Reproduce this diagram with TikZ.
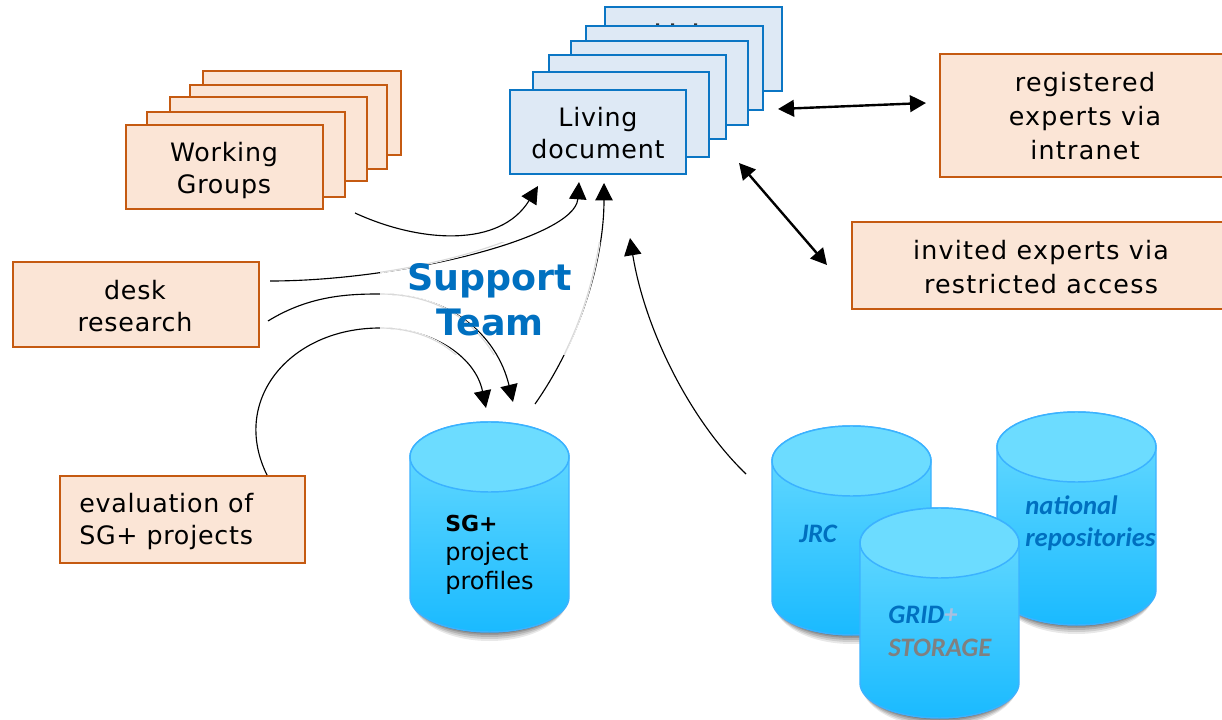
\documentclass[tikz,border=0pt]{standalone}
\usepackage{fontspec}
\setmainfont{DejaVu Sans}
\newfontfamily\boxfam[LetterSpace=3]{DejaVu Sans}
\newfontfamily\widefam[LetterSpace=5]{DejaVu Sans}
\newfontfamily\cylfont{Carlito}
\usetikzlibrary{arrows.meta}
\definecolor{bstroke}{HTML}{0B76C4}
\definecolor{bfill}{HTML}{DEE9F5}
\definecolor{ostroke}{HTML}{C55A11}
\definecolor{ofill}{HTML}{FBE5D6}
\definecolor{cyltop}{HTML}{6CDCFF}
\definecolor{cylbot}{HTML}{1ABAFF}
\definecolor{cylline}{HTML}{3BB2FF}
\definecolor{teamblue}{HTML}{0070C0}
\definecolor{midgray}{HTML}{D9D9D9}
\newcommand{\boxfont}{\boxfam\fontsize{19}{24}\selectfont}
\newcommand{\boxfontwide}{\widefam\fontsize{19}{25.5}\selectfont}
\tikzset{
  x=0.75pt,y=-0.75pt,
  bluebox/.style={draw=bstroke,fill=bfill,line width=1.7pt,inner sep=0pt,outer sep=0pt},
  orangebox/.style={draw=ostroke,fill=ofill,line width=1.7pt,inner sep=0pt,outer sep=0pt},
  boxtext/.style={align=center,inner sep=0pt,font=\boxfont},
  boxtextwide/.style={align=center,inner sep=0pt,font=\boxfontwide},
  curvearrow/.style={draw=black,line width=0.85pt,-{Triangle[length=13pt,width=13pt]}},
  bigarrow/.style={draw=black,line width=1.8pt,{Triangle[length=12pt,width=12.5pt]}-{Triangle[length=12pt,width=12.5pt]}},
  cyllabel/.style={anchor=base west,inner sep=0pt,font=\cylfont\bfseries\itshape\fontsize{20}{24}\selectfont,text=teamblue},
  sglabel/.style={anchor=base west,inner sep=0pt,font=\fontsize{18}{21.7}\selectfont},
}
% style, name, x1, y1, x2, y2
\newcommand{\rbox}[6]{%
  \pgfmathsetmacro{\cxx}{(#3+#5)/2}\pgfmathsetmacro{\cyy}{(#4+#6)/2}%
  \pgfmathsetmacro{\ww}{(#5-#3)*0.75}\pgfmathsetmacro{\hh}{(#6-#4)*0.75}%
  \node[#1,minimum width=\ww pt,minimum height=\hh pt] (#2) at (\cxx,\cyy) {};}
% left, right, top-ellipse centre, side end, ry
\newcommand{\cyl}[5]{%
  \pgfmathsetmacro{\rx}{(#2-#1)/2}%
  \foreach \s/\o in {9/0.09,7/0.11,5/0.13,3/0.15,1.5/0.17}{%
    \fill[black,opacity=\o] (#1+1,#4) arc[start angle=180,end angle=0,x radius=\rx-1,y radius=#5+\s] -- cycle;}%
  \path[shade,top color=cyltop,bottom color=cylbot,draw=cylline,line width=1.1pt]
    (#1,#3) -- (#1,#4) arc[start angle=180,end angle=0,x radius=\rx,y radius=#5]
    -- (#2,#3) arc[start angle=0,end angle=-180,x radius=\rx,y radius=#5] -- cycle;
  \draw[cylline,line width=1.1pt,fill=cyltop] (#1,#3) arc[start angle=180,end angle=540,x radius=\rx,y radius=#5];}
\newcommand{\pathA}{(wgout) .. controls (420,243) and (500,248) .. (wgin)}
\newcommand{\pathB}{(deskouta) .. controls (400,281) and (575,238) .. (deskina)}
\newcommand{\pathC}{(deskoutb) .. controls (310,295) and (350,294) .. (380,294) .. controls (450,294) and (497,335) .. (sgina)}
\newcommand{\pathD}{(evalout) .. controls (230,400) and (290,328) .. (380,328) .. controls (430,328) and (475,355) .. (sginb)}
\newcommand{\pathE}{(sgout) .. controls (580,340) and (604,260) .. (docin)}
\begin{document}
\begin{tikzpicture}
\clip (0,0) rectangle (1222,720);
\fill[white] (0,0) rectangle (1222,720);
% orange stack
\rbox{orangebox}{wg5}{203}{71}{401}{155}
\rbox{orangebox}{wg4}{190}{85}{387}{169}
\rbox{orangebox}{wg3}{170}{97}{367}{181}
\rbox{orangebox}{wg2}{147}{112}{345}{197}
\rbox{orangebox}{wg1}{126}{125}{323}{209}
\node[boxtext] (wgtext) at (224,170.5) {Working\\Groups};
% blue stack
\rbox{bluebox}{ld6}{605}{7}{782}{91}
\fill[black!80] (656,23.5) rectangle (659,25.5) (671,23.5) rectangle (674,25.5) (694,23.5) rectangle (697,25.5);
\rbox{bluebox}{ld5}{586}{26}{763}{110}
\rbox{bluebox}{ld4}{571}{41}{748}{125}
\rbox{bluebox}{ld3}{549}{55}{726}{139}
\rbox{bluebox}{ld2}{533}{72}{709}{157}
\rbox{bluebox}{ld1}{510}{90}{686}{174}
\node[boxtext] (ldtext) at (598,133) {Living\\document};
% other boxes
\rbox{orangebox}{reg}{940}{54}{1230}{177}
\node[boxtextwide] (regtext) at (1085,116.5) {registered\\experts via\\intranet};
\rbox{orangebox}{inv}{852}{222}{1230}{309}
\node[boxtextwide] (invtext) at (1041,267.5) {invited experts via\\restricted access};
\rbox{orangebox}{desk}{13}{262}{259}{347}
\node[boxtext] (desktext) at (135,306.5) {desk\\research};
\rbox{orangebox}{eval}{60}{476}{305}{563}
\node[anchor=west,align=left,inner sep=0pt,font=\boxfont] (evaltext) at (79,522) {evaluation of\\SG+ projects};
% connector ends
\coordinate (wgout) at (355,213);
\coordinate (wgin) at (538,186);
\coordinate (deskouta) at (270,281);
\coordinate (deskina) at (579,182);
\coordinate (deskoutb) at (268,321);
\coordinate (sgina) at (513,402);
\coordinate (evalout) at (267,475);
\coordinate (sginb) at (486,408);
\coordinate (sgout) at (535,404);
\coordinate (docin) at (604,183);
\coordinate (repout) at (746,474);
\coordinate (repin) at (630,238);
\coordinate (rega) at (778,109);
\coordinate (regb) at (926,103);
\coordinate (inva) at (739,163);
\coordinate (invb) at (827,265);
% connectors
\draw[curvearrow] \pathA;
\draw[curvearrow] \pathB;
\draw[curvearrow] \pathC;
\draw[curvearrow] \pathD;
\draw[curvearrow] \pathE;
\draw[curvearrow] (repout) .. controls (690,420) and (645,330) .. (repin);
\draw[bigarrow] (rega) -- (regb);
\draw[bigarrow] (inva) -- (invb);
% faded middle part under the Support Team label
\begin{scope}
\clip (380,243) rectangle (602,355);
\draw[white,line width=1.6pt] \pathB;
\draw[white,line width=1.6pt] \pathC;
\draw[white,line width=1.6pt] \pathD;
\draw[white,line width=1.6pt] \pathE;
\draw[midgray,line width=0.85pt] \pathB;
\draw[midgray,line width=0.85pt] \pathC;
\draw[midgray,line width=0.85pt] \pathD;
\draw[midgray,line width=0.85pt] \pathE;
\end{scope}
\node[align=center,inner sep=0pt,text=teamblue,font=\bfseries\fontsize{27.3}{34}\selectfont] (team) at (490,300) {Support\\Team};
% cylinders
\cyl{410}{569}{457}{597}{35}
\node[anchor=base west,inner sep=0pt,font=\bfseries\fontsize{16.5}{21.7}\selectfont] (sg) at (445,531) {SG+};
\node[sglabel] (sgb) at (445,560) {project};
\node[sglabel] (sgc) at (445,589) {profiles};
\cyl{772}{931}{461}{600}{35}
\node[cyllabel] (jrc) at (799,542) {JRC};
\cyl{997}{1156}{447}{590}{35}
\node[cyllabel] (nat) at (1025,514) {national};
\node[cyllabel] (rep) at (1025,546) {repositories};
\cyl{860}{1019}{543}{683}{35}
\node[cyllabel] (grid) at (888,623) {GRID\textcolor[HTML]{A9BFDF}{+}};
\node[cyllabel,text=gray] (stor) at (888,656) {STORAGE};
\end{tikzpicture}
\end{document}
